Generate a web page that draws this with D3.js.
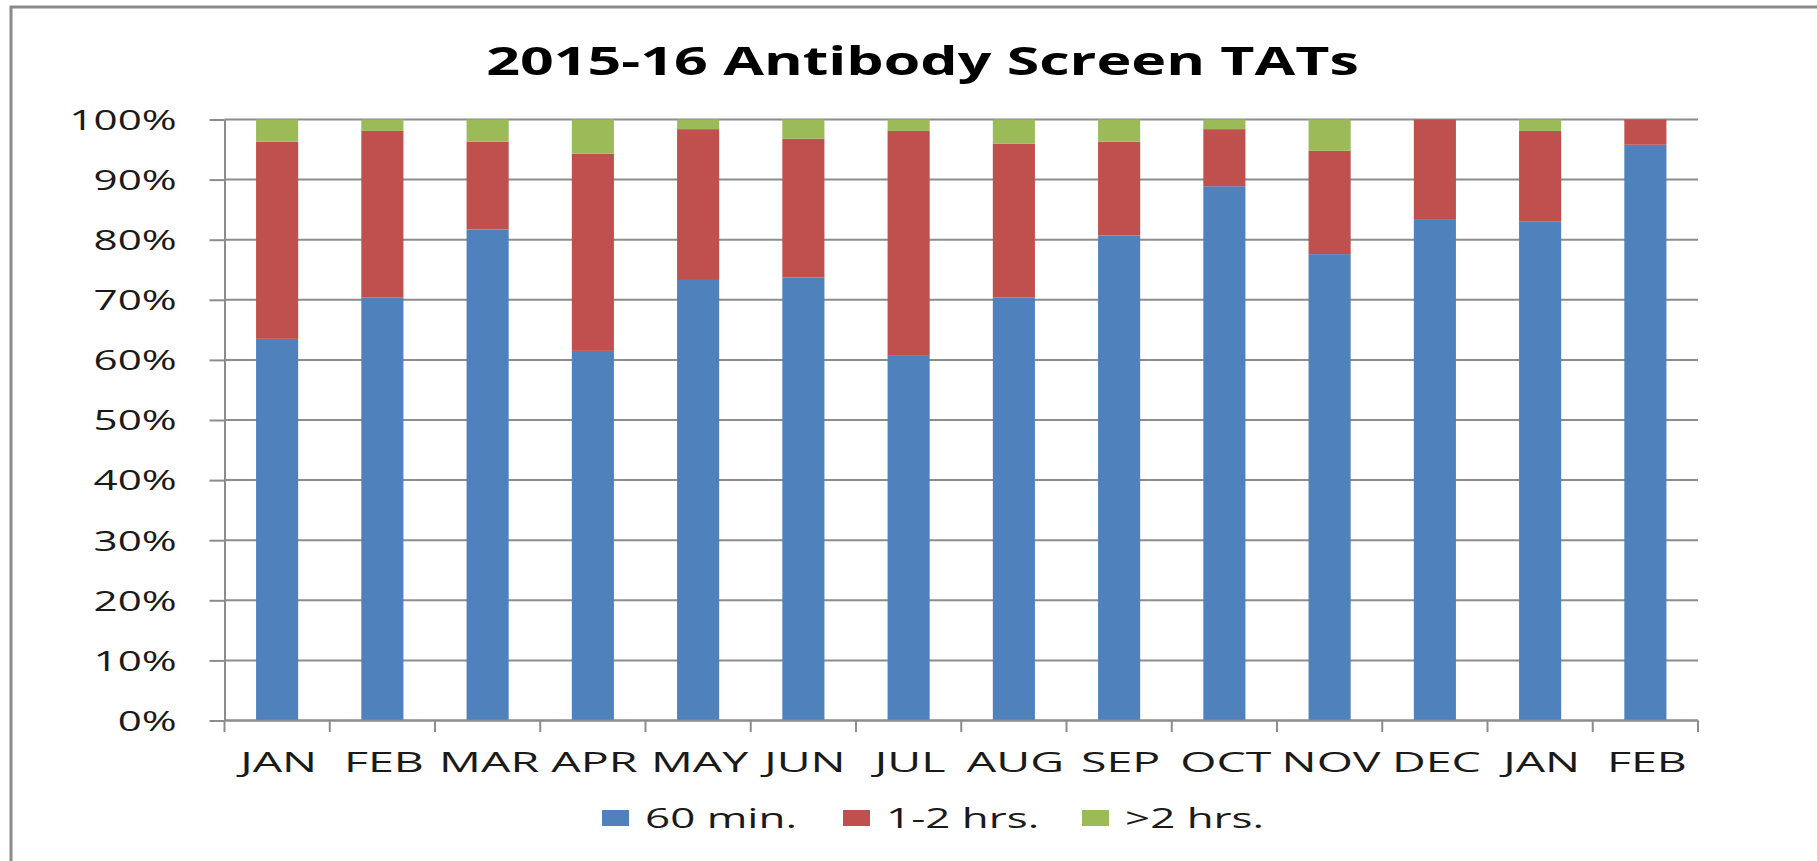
<!DOCTYPE html>
<html>
<head>
<meta charset="utf-8">
<script src="https://cdn.jsdelivr.net/npm/d3@7"></script>
<style>
  html, body { margin: 0; padding: 0; background: #fff; overflow: hidden; }
  svg { display: block; overflow: hidden; }
  text { font-family: "Open Sans", "DejaVu Sans", sans-serif; fill: #1a1a1a; }
</style>
</head>
<body>
<svg id="chart" width="1817" height="861"></svg>
<script>
// ---- data ----
const chartTitle = "2015-16 Antibody Screen TATs";
const months = ["JAN", "FEB", "MAR", "APR", "MAY", "JUN", "JUL", "AUG", "SEP", "OCT", "NOV", "DEC", "JAN", "FEB"];
const seriesNames = ["60 min.", "1-2 hrs.", ">2 hrs."];
const within60 = [63.5, 70.4, 81.7, 61.5, 73.3, 73.7, 60.8, 70.4, 80.7, 88.9, 77.6, 83.3, 83.0, 95.8];
const oneToTwo = [32.8, 27.7, 14.6, 32.8, 25.1, 23.1, 37.3, 25.6, 15.6, 9.5, 17.2, 16.7, 15.1, 4.2];
const overTwo  = [3.7, 1.9, 3.7, 5.7, 1.6, 3.2, 1.9, 4.0, 3.7, 1.6, 5.2, 0, 1.9, 0];
const yTicks = [0, 10, 20, 30, 40, 50, 60, 70, 80, 90, 100];
const colors = ["#4F81BD", "#C0504D", "#9BBB59"];

// ---- layout ----
const svg = d3.select("#chart");
const plotL = 224.5, plotR = 1698, plotT = 119.5, plotB = 720.5;
const gridColor = "#8c8c8c";

// border (only left and top visible)
svg.append("path").attr("d", "M11,861 L11,7 L1817,7")
  .attr("fill", "none").attr("stroke", "#8a8a8a").attr("stroke-width", 3);

const rows = months.map((m, i) => ({ i, a: within60[i], b: oneToTwo[i], c: overTwo[i] }));
const stacked = d3.stack().keys(["a", "b", "c"])(rows);

const x = d3.scaleBand().domain(d3.range(months.length)).range([plotL, plotR])
  .paddingInner(0.6).paddingOuter(0.3);
const y = d3.scaleLinear().domain([0, 100]).range([plotB, plotT]);

// helper to horizontally stretch text to match reference proportions
function stretch(sel, sx) {
  sel.each(function () {
    const t = d3.select(this);
    const tx = +t.attr("data-x"), ty = +t.attr("data-y");
    t.attr("transform", `translate(${tx},${ty}) scale(${sx},1)`);
  });
}
function measure(str, size, weight) {
  const t = svg.append("text").style("font-size", size + "px").style("font-weight", weight || 400).text(str);
  const w = t.node().getComputedTextLength();
  t.remove();
  return w;
}

// gridlines
svg.append("g").selectAll("line").data(yTicks).join("line")
  .attr("x1", plotL).attr("x2", plotR)
  .attr("y1", d => y(d)).attr("y2", d => y(d))
  .attr("stroke", gridColor).attr("stroke-width", 2);

// y axis
const yAxis = svg.append("g").attr("transform", `translate(${plotL},0)`)
  .call(d3.axisLeft(y).tickValues(yTicks).tickSize(15).tickSizeOuter(0).tickFormat(d => d + "%"));
yAxis.attr("font-family", null).attr("font-size", null);
yAxis.select(".domain").attr("stroke", gridColor).attr("stroke-width", 2);
yAxis.selectAll(".tick line").attr("stroke", gridColor).attr("stroke-width", 2);
const tickFs = 27;
const sxTick = 107.4 / measure("100%", tickFs);
yAxis.selectAll(".tick text")
  .style("font-size", tickFs + "px").attr("fill", "#1a1a1a")
  .attr("x", 0).attr("dy", null).attr("text-anchor", "end")
  .attr("data-x", -47.8).attr("data-y", 9.8)
  .call(stretch, sxTick);

// bars
svg.append("g").selectAll("g").data(stacked).join("g")
  .attr("fill", (d, i) => colors[i])
  .selectAll("rect").data(d => d).join("rect")
  .attr("x", d => x(d.data.i))
  .attr("width", x.bandwidth())
  .attr("y", d => y(d[1]))
  .attr("height", d => Math.max(0, y(d[0]) - y(d[1])));

// x axis line + boundary ticks
const step = x.step();
const boundaries = d3.range(months.length + 1).map(i => plotL + i * step);
svg.append("line").attr("x1", plotL).attr("x2", plotR).attr("y1", plotB).attr("y2", plotB)
  .attr("stroke", gridColor).attr("stroke-width", 2);
svg.append("g").selectAll("line").data(boundaries).join("line")
  .attr("x1", d => d).attr("x2", d => d).attr("y1", plotB).attr("y2", plotB + 11.5)
  .attr("stroke", gridColor).attr("stroke-width", 2);

// x labels
const xFs = 27;
const sxX = 77 / measure("JAN", xFs);
svg.append("g").selectAll("text").data(months).join("text")
  .attr("text-anchor", "middle").style("font-size", xFs + "px")
  .attr("data-x", (d, i) => x(i) + x.bandwidth() / 2 + 1.5).attr("data-y", 772.3)
  .text(d => d)
  .call(stretch, sxX);

// title
const titleFs = 39;
const sxTitle = 873 / measure(chartTitle, titleFs, 700);
svg.append("text").attr("text-anchor", "middle").style("font-size", titleFs + "px").style("font-weight", 700)
  .style("fill", "#000")
  .attr("data-x", 922.5).attr("data-y", 75).text(chartTitle).call(stretch, sxTitle);

// legend
const legFs = 27;
const sxLeg = 152 / measure(seriesNames[0], legFs);
const legX = [602, 843, 1082];
const leg = svg.append("g").selectAll("g").data(seriesNames).join("g");
leg.append("rect").attr("x", (d, i) => legX[i]).attr("y", 810).attr("width", 27).attr("height", 16)
  .attr("fill", (d, i) => colors[i]);
leg.append("text").style("font-size", legFs + "px")
  .attr("data-x", (d, i) => legX[i] + 43).attr("data-y", 828)
  .text(d => d).call(stretch, sxLeg);
</script>
</body>
</html>
